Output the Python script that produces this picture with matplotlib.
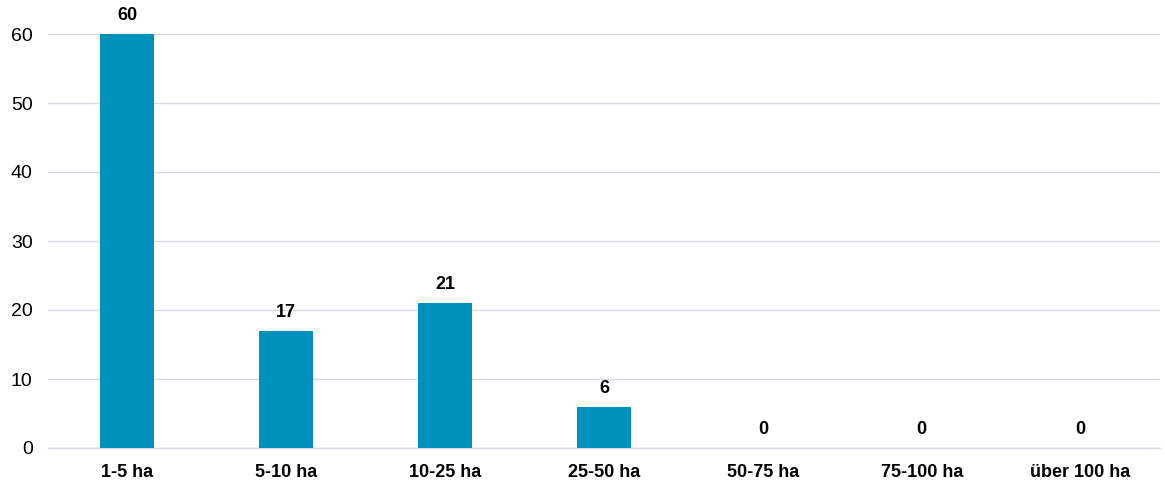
import numpy as np
import matplotlib.pyplot as plt

plt.rcParams['font.family'] = ['Liberation Sans', 'DejaVu Sans']

categories = ["1-5 ha", "5-10 ha", "10-25 ha", "25-50 ha", "50-75 ha", "75-100 ha", "über 100 ha"]
counts = [60, 17, 21, 6, 0, 0, 0]
yticks = [0, 10, 20, 30, 40, 50, 60]

bar_color = "#0090bc"
grid_color = "#d9d9e3"

fig = plt.figure(figsize=(11.65, 4.84), dpi=100)
ax = fig.add_axes([48 / 1165, 36 / 484, 1112 / 1165, 414 / 484])

x = np.arange(len(categories))
bars = ax.bar(x, counts, width=0.34, color=bar_color, zorder=3)

for xi, v in zip(x, counts):
    ax.annotate(str(v), (xi, v), xytext=(0, 7), textcoords="offset points",
                ha="center", va="bottom", fontsize=13, fontweight="bold",
                color="black", annotation_clip=False)

ax.set_xlim(-0.5, len(categories) - 0.5)
ax.set_ylim(0, 60)
ax.set_yticks(yticks)
ax.set_xticks(x)
ax.set_xticklabels(categories, fontsize=13, fontweight="bold")
ax.tick_params(axis="y", length=0, pad=11, labelsize=14)
ax.tick_params(axis="x", length=0, pad=11.5)

ax.grid(axis="y", color=grid_color, lw=1, zorder=0)
for s in ["top", "right", "left"]:
    ax.spines[s].set_visible(False)
ax.spines["bottom"].set_color(grid_color)
ax.spines["bottom"].set_linewidth(1)

fig.savefig("out.png", dpi=100)
